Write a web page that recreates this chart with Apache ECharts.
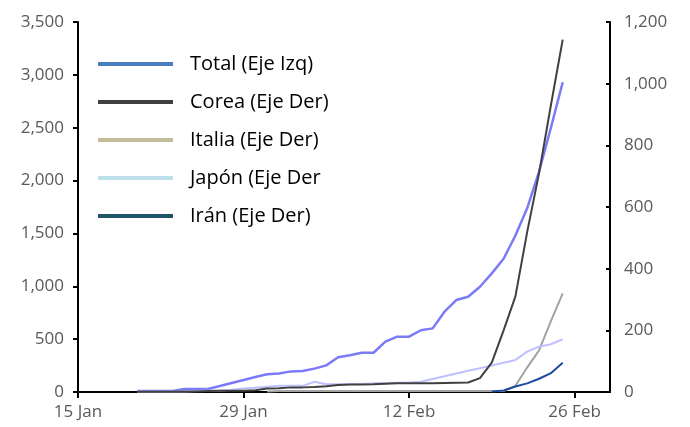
<!DOCTYPE html>
<html><head><meta charset="utf-8">
<script src="https://cdn.jsdelivr.net/npm/echarts@6/dist/echarts.min.js"></script>
<style>html,body{margin:0;padding:0;background:#fff}#c{width:690px;height:427px}</style>
</head><body><div id="c"></div>
<script>
// x positions are days after 15 Jan 2020
const firstDay = 5; // 20 Jan
const tickDays = [0, 14, 28, 42];
const tickLabels = ['15 Jan', '29 Jan', '12 Feb', '26 Feb'];
const seriesNames = ['Total (Eje Izq)', 'Corea (Eje Der)', 'Italia (Eje Der)', 'Japón (Eje Der', 'Irán (Eje Der)'];

// values from 20 Jan to 25 Feb
const total = [9, 9, 9, 9, 28, 28, 28, 56, 85, 113, 142, 168, 175, 195, 198, 221, 252, 328, 347, 371, 371, 476, 523, 523, 584, 602, 760, 870, 901, 996, 1122, 1260, 1480, 1740, 2085, 2500, 2930];
const corea = [1, 1, 1, 1, 2, 2, 3, 4, 4, 4, 6, 11, 12, 15, 15, 16, 19, 23, 24, 24, 25, 27, 28, 28, 28, 28, 29, 30, 31, 45, 95, 200, 310, 520, 710, 930, 1143];
const italia = [null, null, null, null, null, null, null, null, null, null, null, 2, 3, 3, 3, 3, 3, 3, 3, 3, 3, 3, 3, 3, 3, 3, 3, 3, 3, 3, 3, 3, 20, 80, 135, 230, 320];
const japon = [1, 1, 1, 1, 2, 3, 4, 4, 7, 11, 14, 17, 20, 20, 20, 33, 25, 25, 25, 26, 28, 29, 30, 31, 33, 42, 51, 60, 69, 77, 86, 95, 104, 131, 147, 155, 171];
const iran = [null, null, null, null, null, null, null, null, null, null, null, null, null, null, null, null, null, null, null, null, null, null, null, null, null, null, null, null, null, null, 2, 5, 18, 28, 43, 61, 95];

const lineColors = ['#7b7bf7', '#404040', '#a3a3a3', '#c0c0ff', '#1d4c9c'];
const legendColors = ['#4a7fc1', '#404040', '#c3bd9c', '#bde0ea', '#1f5566'];

function pairs(arr) { return arr.map((v, i) => [firstDay + i, v]); }

const chart = echarts.init(document.getElementById('c'));
const axisFont = { fontFamily: 'Open Sans', fontSize: 17, color: '#595959' };
const allData = [total, corea, italia, japon, iran];
chart.setOption({
  animation: false,
  grid: { left: 78, right: 80, top: 22, bottom: 35, containLabel: false },
  legend: {
    orient: 'vertical', left: 98, top: 54, padding: 0,
    itemWidth: 75, itemHeight: 4, itemGap: 18, icon: 'rect',
    textStyle: { fontFamily: 'Open Sans', fontSize: 20, lineHeight: 20, color: '#000', padding: [0, 0, 0, 12] },
    data: seriesNames.map((n, i) => ({ name: n, itemStyle: { color: legendColors[i] }, lineStyle: { color: legendColors[i] } }))
  },
  xAxis: {
    type: 'value', min: 0, max: 45,
    axisLine: { lineStyle: { color: '#000', width: 2 } },
    axisTick: { length: 6, lineStyle: { color: '#000', width: 2 }, customValues: tickDays },
    axisLabel: Object.assign({ margin: 12, customValues: tickDays,
      formatter: v => { const k = tickDays.indexOf(v); return k >= 0 ? tickLabels[k] : ''; } }, axisFont),
    splitLine: { show: false }
  },
  yAxis: [
    { type: 'value', min: 0, max: 3500, interval: 500, position: 'left',
      axisLine: { show: true, lineStyle: { color: '#000', width: 2 } },
      axisTick: { show: true, length: 5, lineStyle: { color: '#000', width: 2 } },
      axisLabel: Object.assign({ margin: 14 }, axisFont),
      splitLine: { show: false } },
    { type: 'value', min: 0, max: 1200, interval: 200, position: 'right',
      axisLine: { show: true, lineStyle: { color: '#000', width: 2 } },
      axisTick: { show: true, inside: true, length: 4, lineStyle: { color: '#000', width: 2 } },
      axisLabel: Object.assign({ margin: 14 }, axisFont),
      splitLine: { show: false } }
  ],
  series: seriesNames.map((n, i) => ({
    name: n, type: 'line', yAxisIndex: i === 0 ? 0 : 1,
    data: pairs(allData[i]), showSymbol: false, symbol: 'none',
    lineStyle: { color: lineColors[i], width: i === 0 ? 2.5 : 2 },
    itemStyle: { color: lineColors[i] },
    z: [2, 5, 3, 4, 6][i]
  }))
});
</script></body></html>
